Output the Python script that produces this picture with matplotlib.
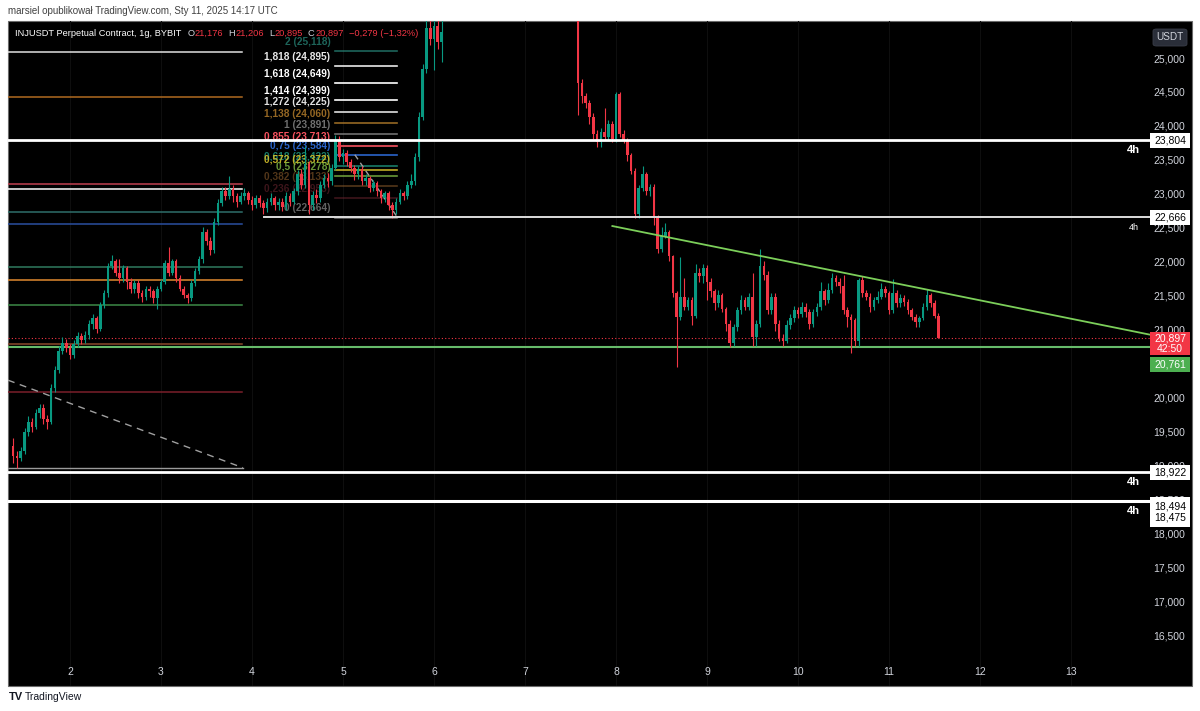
import matplotlib
matplotlib.use("Agg")
import matplotlib.pyplot as plt
from matplotlib.patches import Rectangle, FancyBboxPatch

W, H = 1200, 711
plt.rcParams['font.family'] = ['Liberation Sans', 'DejaVu Sans']

# INJUSDT 1h candles (days of Jan 2025); first open given, later opens = prev close
seg1_start = 1 + 9 / 24
seg1_open = 19.30
seg1_close = [19.15, 19.12, 19.22, 19.50, 19.66, 19.58, 19.78, 19.86, 19.70, 19.66,
              20.15, 20.42, 20.70, 20.82, 20.74, 20.64, 20.80, 20.92, 20.86, 20.93,
              21.10, 21.18, 21.02, 21.38, 21.55, 21.95, 22.02, 21.85, 21.78, 21.92,
              21.72, 21.62, 21.70, 21.55, 21.50, 21.62, 21.58, 21.48, 21.62, 21.72,
              22.00, 21.85, 22.02, 21.78, 21.62, 21.52, 21.48, 21.70, 21.88, 22.05,
              22.45, 22.32, 22.18, 22.60, 22.88, 23.05, 22.98, 23.08, 22.98, 22.90,
              22.98, 23.02, 22.92, 22.85, 22.95, 22.88, 22.80, 22.90, 22.95, 22.85,
              22.90, 22.82, 22.98, 22.90, 23.05, 23.30, 23.15, 23.45, 22.85, 23.00,
              22.95, 23.15, 23.25, 23.20, 23.40, 23.80, 23.55, 23.62, 23.48, 23.40,
              23.30, 23.38, 23.20, 23.25, 23.10, 23.18, 23.05, 22.95, 23.02, 22.85,
              22.78, 22.90, 23.02, 22.98, 23.15, 23.20, 23.55, 24.15, 24.85, 25.45,
              25.30, 25.48, 25.25, 25.40]
seg1_high = [19.42, 19.22, 19.28, 19.56, 19.74, 19.72, 19.84, 19.92, 19.92, 19.76,
             20.22, 20.48, 20.78, 20.90, 20.88, 20.80, 20.86, 20.98, 20.97, 20.99,
             21.15, 21.24, 21.22, 21.42, 21.60, 22.00, 22.12, 22.06, 22.05, 21.96,
             21.95, 21.78, 21.74, 21.75, 21.60, 21.66, 21.66, 21.62, 21.65, 21.76,
             22.04, 22.23, 22.06, 22.05, 21.82, 21.66, 21.56, 21.74, 21.92, 22.10,
             22.52, 22.50, 22.38, 22.66, 22.94, 23.12, 23.12, 23.27, 23.14, 23.02,
             23.04, 23.10, 23.06, 22.98, 23.00, 22.99, 22.92, 22.96, 23.02, 22.98,
             22.95, 22.96, 23.04, 23.02, 23.10, 23.36, 23.38, 23.72, 23.50, 23.05,
             23.08, 23.20, 23.30, 23.32, 23.46, 23.88, 23.86, 23.68, 23.66, 23.52,
             23.44, 23.42, 23.42, 23.30, 23.28, 23.22, 23.20, 23.08, 23.06, 23.05,
             22.90, 22.95, 23.08, 23.06, 23.20, 23.30, 23.62, 24.22, 24.92, 25.60,
             25.60, 25.60, 25.60, 25.60]
seg1_low = [19.05, 18.98, 19.08, 19.18, 19.45, 19.50, 19.55, 19.72, 19.62, 19.55,
            19.62, 20.10, 20.38, 20.66, 20.68, 20.58, 20.60, 20.76, 20.80, 20.82,
            20.88, 21.02, 20.96, 21.00, 21.34, 21.50, 21.90, 21.80, 21.70, 21.72,
            21.62, 21.55, 21.55, 21.48, 21.42, 21.45, 21.50, 21.40, 21.32, 21.58,
            21.68, 21.80, 21.82, 21.72, 21.58, 21.48, 21.40, 21.44, 21.66, 21.84,
            22.00, 22.26, 22.12, 22.14, 22.55, 22.84, 22.92, 22.94, 22.90, 22.82,
            22.86, 22.92, 22.86, 22.78, 22.80, 22.82, 22.72, 22.75, 22.85, 22.78,
            22.78, 22.76, 22.78, 22.84, 22.86, 23.00, 23.08, 23.10, 22.72, 22.78,
            22.88, 22.90, 23.10, 23.12, 23.15, 23.36, 23.50, 23.46, 23.42, 23.34,
            23.22, 23.24, 23.14, 23.15, 23.04, 23.05, 22.98, 22.88, 22.90, 22.78,
            22.664, 22.72, 22.86, 22.92, 22.94, 23.10, 23.15, 23.50, 24.10, 24.80,
            25.20, 24.84, 25.15, 24.95]

seg2_start = 7 + 14 / 24
seg2_open = 25.60
seg2_close = [24.65, 24.45, 24.35, 24.15, 23.90, 23.78, 23.92, 23.85, 24.05, 23.82,
              24.48, 23.90, 23.80, 23.58, 23.35, 22.72, 23.10, 23.30, 23.05, 23.12,
              22.67, 22.20, 22.40, 22.45, 22.10, 21.55, 21.20, 21.50, 21.35, 21.45,
              21.22, 21.85, 21.80, 21.92, 21.72, 21.58, 21.40, 21.52, 21.32, 21.10,
              20.82, 21.05, 21.30, 21.45, 21.35, 21.50, 20.90, 21.10, 21.95, 21.82,
              21.30, 21.50, 21.10, 20.88, 20.85, 21.08, 21.18, 21.30, 21.25, 21.35,
              21.28, 21.10, 21.28, 21.35, 21.58, 21.45, 21.60, 21.78, 21.72, 21.65,
              21.30, 21.20, 21.15, 20.85, 21.75, 21.55, 21.50, 21.35, 21.45, 21.50,
              21.62, 21.55, 21.30, 21.55, 21.40, 21.48, 21.42, 21.30, 21.20, 21.12,
              21.18, 21.35, 21.52, 21.40, 21.22, 20.897]
seg2_high = [25.60, 24.70, 24.50, 24.40, 24.20, 23.95, 23.98, 24.28, 24.10, 24.08,
             24.52, 24.52, 23.95, 23.84, 23.62, 23.40, 23.15, 23.42, 23.34, 23.16,
             23.16, 22.70, 22.52, 22.58, 22.48, 22.12, 21.58, 22.08, 21.78, 21.50,
             21.50, 21.98, 21.92, 21.98, 21.96, 21.78, 21.62, 21.60, 21.55, 21.35,
             21.15, 21.10, 21.35, 21.52, 21.50, 21.56, 21.85, 21.15, 22.20, 22.02,
             21.88, 21.55, 21.55, 21.15, 20.95, 21.15, 21.25, 21.36, 21.35, 21.42,
             21.40, 21.32, 21.32, 21.40, 21.72, 21.62, 21.70, 21.85, 21.82, 21.78,
             21.82, 21.35, 21.25, 21.18, 21.78, 21.80, 21.60, 21.55, 21.50, 21.58,
             21.70, 21.66, 21.58, 21.76, 21.60, 21.54, 21.52, 21.46, 21.34, 21.25,
             21.22, 21.40, 21.62, 21.56, 21.45, 21.26]
seg2_low = [24.17, 24.35, 24.28, 24.05, 23.82, 23.70, 23.70, 23.80, 23.80, 23.78,
            23.78, 23.85, 23.76, 23.50, 23.30, 22.66, 22.66, 23.05, 23.00, 22.98,
            22.55, 22.15, 22.16, 22.36, 22.02, 21.50, 20.46, 21.15, 21.30, 21.30,
            21.08, 21.18, 21.72, 21.70, 21.45, 21.50, 21.30, 21.35, 21.28, 21.00,
            20.76, 20.77, 21.00, 21.25, 21.30, 21.30, 20.78, 20.77, 21.05, 21.75,
            21.24, 21.25, 21.00, 20.84, 20.77, 20.82, 21.02, 21.12, 21.18, 21.20,
            21.20, 21.02, 21.05, 21.22, 21.30, 21.38, 21.40, 21.55, 21.65, 21.55,
            21.25, 21.05, 20.67, 20.77, 20.78, 21.50, 21.45, 21.28, 21.30, 21.40,
            21.46, 21.50, 21.25, 21.26, 21.35, 21.35, 21.36, 21.25, 21.15, 21.05,
            21.06, 21.15, 21.30, 21.35, 21.18, 20.89]

# fib retracement
fib_levels = ['2', '1,818', '1,618', '1,414', '1,272', '1,138', '1', '0,855', '0,75',
              '0,618', '0,572', '0,5', '0,382', '0,236', '0']
fib_prices = [25.118, 24.895, 24.649, 24.399, 24.225, 24.060, 23.891, 23.713, 23.584,
              23.422, 23.372, 23.278, 23.133, 22.953, 22.664]
fib_colors = ['#2a8f80', '#e8e8e8', '#ffffff', '#ffffff', '#e0e0e0', '#b07a2a', '#8c8c8c',
              '#f7525f', '#2f6fe0', '#1f9a82', '#d4bf2a', '#7cb342', '#8a5a2a', '#7a2a35',
              '#8c8c8c']
fib_alpha = [0.7, 1, 1, 1, 1, 0.85, 0.8, 1, 0.9, 0.8, 0.9, 0.85, 0.6, 0.5, 0.7]

# left side levels
left_prices = [25.10, 24.44, 23.16, 23.09, 22.75, 22.57, 21.94, 21.75, 21.38, 20.80, 20.10]
left_colors = ['#e0e0e0', '#b06a20', '#c04050', '#ffffff', '#2e6e6a', '#2a4fa0',
               '#2f7a5f', '#e08a30', '#3d8a47', '#8b4a2b', '#7a1f2a']

# 4h key levels
key_levels = [23.804, 22.666, 18.922, 18.494]
support = 20.761
last_price = 20.897
trend_days = [7.96, 13.868]
trend_prices = [22.54, 20.94]

price_ticks = [16.5, 17.0, 17.5, 18.0, 18.5, 19.0, 19.5, 20.0, 20.5, 21.0, 21.5,
               22.0, 22.5, 23.0, 23.5, 24.0, 24.5, 25.0]
day_ticks = [2, 3, 4, 5, 6, 7, 8, 9, 10, 11, 12, 13]

GREEN = '#089981'
RED = '#f23645'
TXT = '#d1d4dc'


def fmt(v):
    return f"{v:,.3f}".replace('.', ',')


def px_axes(x0, y0, x1, y1):
    return fig.add_axes([x0 / W, 1 - y1 / H, (x1 - x0) / W, (y1 - y0) / H])


fig = plt.figure(figsize=(W / 100, H / 100), dpi=100, facecolor='white')

# black chart panel
fig.add_artist(Rectangle((8 / W, 1 - 686 / H), 1184 / W, 665 / H, transform=fig.transFigure,
                         facecolor='black', edgecolor='#6a6a6a', lw=0.8, zorder=0))

ax = px_axes(8, 21, 1150, 686)
ax.set_facecolor('none')
for s in ax.spines.values():
    s.set_visible(False)
x_lo, x_hi = 2 + (8 - 70) / 91, 2 + (1150 - 70) / 91
y_lo, y_hi = 25 - (686 - 59) / 67.9, 25 + (59 - 21) / 67.9
ax.set_xlim(x_lo, x_hi)
ax.set_ylim(y_lo, y_hi)
ax.set_xticks([])
ax.set_yticks([])

# faint vertical day grid
for d in day_ticks:
    ax.axvline(d, color='#0e0e0e', lw=0.8, zorder=0)


def draw_candles(start, first_open, closes, highs, lows):
    opens = [first_open] + closes[:-1]
    bw = 0.7 / 24
    for i, (o, c, h, l) in enumerate(zip(opens, closes, highs, lows)):
        t = start + i / 24
        col = GREEN if c >= o else RED
        ax.vlines(t, l, h, color=col, lw=0.8, zorder=4)
        hgt = c - o if abs(c - o) > 0.012 else 0.012
        ax.bar(t, hgt, bottom=o, width=bw, color=col, lw=0, zorder=4)


# left levels
for pr, col in zip(left_prices, left_colors):
    ax.plot([x_lo, 3.89], [pr, pr], color=col, lw=1.1, zorder=2)

# dashed diagonal and base line bottom-left
ax.plot([x_lo, 3.90], [20.27, 18.98], color='#a0a0a0', lw=1, ls=(0, (5, 4)), zorder=2)
ax.plot([x_lo, 3.90], [18.97, 18.97], color='#9a9a9a', lw=1, zorder=2)

# fib retracement lines + labels
for lv, pr, col, a in zip(fib_levels, fib_prices, fib_colors, fib_alpha):
    ax.plot([4.91, 5.59], [pr, pr], color=col, lw=1.2, alpha=a, zorder=2)
    ax.text(4.86, pr + 0.135, f"{lv} ({fmt(pr)})", color=col, alpha=a, fontsize=7.3,
            fontweight='bold', ha='right', va='center', zorder=3)
ax.plot([5.13, 5.60], [23.59, 22.664], color='#a0a0a0', lw=1, ls=(0, (4, 3)), zorder=2)

# key 4h levels
ax.axhline(key_levels[0], color='white', lw=2, zorder=5)
ax.plot([4.13, x_hi], [key_levels[1], key_levels[1]], color='#dcdcdc', lw=1.4, zorder=5)
ax.axhline(key_levels[2], color='white', lw=2, zorder=5)
ax.axhline(key_levels[3], color='white', lw=2.2, zorder=5)
for pr, bold, fs in [(key_levels[0], 'bold', 8), (key_levels[1], 'normal', 6.5),
                     (key_levels[2], 'bold', 8), (key_levels[3], 'bold', 8)]:
    ax.text(13.69, pr - 0.15, '4h', color='white', fontsize=fs, fontweight=bold,
            ha='center', va='center', zorder=6)

# support and last price line
ax.axhline(support, color='#66bb6a', lw=1.5, zorder=3)
ax.axhline(last_price, color=RED, lw=0.8, ls=(0, (1, 2)), zorder=3)

# descending trendline
ax.plot(trend_days, trend_prices, color='#7ccf5a', lw=1.3, zorder=5)

draw_candles(seg1_start, seg1_open, seg1_close, seg1_high, seg1_low)
draw_candles(seg2_start, seg2_open, seg2_close, seg2_high, seg2_low)

# date labels
xt = ax.get_xaxis_transform()
for d in day_ticks:
    ax.text(d, (686 - 672) / 665, str(d), transform=xt, color=TXT, fontsize=7.5,
            ha='center', va='center')

# price scale
pax = px_axes(1150, 21, 1192, 686)
pax.set_facecolor('none')
for s in pax.spines.values():
    s.set_visible(False)
pax.set_xlim(0, 42)
pax.set_ylim(y_lo, y_hi)
pax.set_xticks([])
pax.set_yticks([])
for pt in price_ticks:
    pax.text(19.5, pt, fmt(pt), color=TXT, fontsize=7.5, ha='center', va='center', zorder=1)

u = 1 / 67.9  # price per pixel


def price_box(top_px, h_px, fc, lines, tc):
    yb = 25 - (top_px + h_px - 59) * u
    pax.add_patch(Rectangle((0, yb), 40, h_px * u, facecolor=fc, edgecolor='none', zorder=3))
    pax.text(20, yb + h_px * u / 2, "\n".join(lines), color=tc, fontsize=7.5, ha='center',
             va='center', linespacing=1.05, zorder=4)


price_box(133, 15, 'white', [fmt(key_levels[0])], 'black')
price_box(210, 15, 'white', [fmt(key_levels[1])], 'black')
price_box(465, 15, 'white', [fmt(key_levels[2])], 'black')
price_box(497, 30, 'white', [fmt(key_levels[3]), '18,475'], 'black')
price_box(332, 23, RED, [fmt(last_price), '42:50'], 'white')
price_box(357, 15, '#4caf50', [fmt(support)], 'white')

# USDT button
fig.add_artist(FancyBboxPatch((1153 / W, 1 - 46 / H), 34 / W, 17 / H,
                              boxstyle='round,pad=0,rounding_size=0.003',
                              transform=fig.transFigure, facecolor='#2a2e39',
                              edgecolor='#3a3e49', lw=0.6, zorder=5))
fig.text(1170 / W, 1 - 37.5 / H, 'USDT', color=TXT, fontsize=7.2, ha='center', va='center',
         zorder=6)

# header texts
fig.text(8 / W, 1 - 11 / H, 'marsiel opublikował TradingView.com, Sty 11, 2025 14:17 UTC',
         color='#404040', fontsize=7, ha='left', va='center')
renderer = fig.canvas.get_renderer()
parts = [('INJUSDT Perpetual Contract, 1g, BYBIT', 'white', 6), ('O', TXT, 0.5), ('21,176', RED, 5),
         ('H', TXT, 0.5), ('21,206', RED, 5), ('L', TXT, 0.5), ('20,895', RED, 5),
         ('C', TXT, 0.5), ('20,897', RED, 5), ('\u22120,279 (\u22121,32%)', RED, 0)]
xcur = 15
for s, col, gap in parts:
    t = fig.text(xcur / W, 1 - 33 / H, s, color=col, fontsize=6.7, ha='left', va='center',
                 zorder=7)
    xcur += t.get_window_extent(renderer).width + gap

# footer logo
fig.text(9 / W, 1 - 697 / H, 'TV', color='#131722', fontsize=8, fontweight='bold',
         ha='left', va='center')
fig.text(25 / W, 1 - 697 / H, 'TradingView', color='#131722', fontsize=7.5,
         ha='left', va='center')

fig.savefig('out.png', dpi=100, facecolor='white')
